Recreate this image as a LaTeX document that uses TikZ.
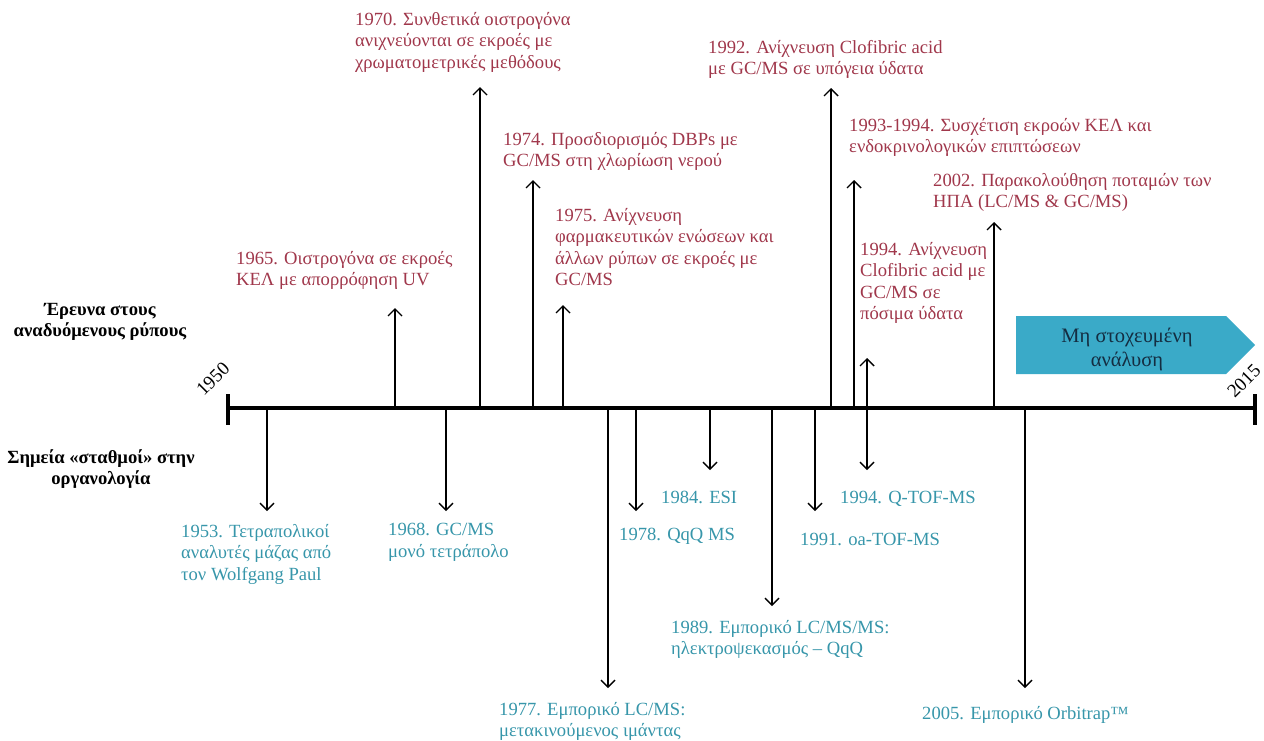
\documentclass[tikz,border=0pt]{standalone}
\usepackage{fontspec}
\setmainfont{Liberation Serif}
\usetikzlibrary{arrows.meta}
\definecolor{redtxt}{RGB}{160,55,75}
\definecolor{tealtxt}{RGB}{55,150,170}
\definecolor{boxblue}{RGB}{58,170,200}
\definecolor{boxtxt}{RGB}{20,45,65}
\begin{document}
\begin{tikzpicture}[x=1pt,y=-1pt,
  uptxt/.style={text=redtxt, font=\fontsize{18.6}{21.5}\selectfont, align=left, anchor=north west, inner sep=0pt},
  dntxt/.style={text=tealtxt, font=\fontsize{18.6}{21.5}\selectfont, align=left, anchor=north west, inner sep=0pt},
  sidetxt/.style={font=\bfseries\fontsize{18.6}{21.5}\selectfont, align=center, inner sep=0pt},
  yeartxt/.style={font=\fontsize{19}{20}\selectfont, rotate=45, inner sep=0pt},
  arr/.style={line width=1.4pt, -{Straight Barb[length=7pt,width=14pt,line width=1.4pt]}},
  darr/.style={line width=1.4pt, {Straight Barb[length=7pt,width=14pt,line width=1.4pt]}-{Straight Barb[length=7pt,width=14pt,line width=1.4pt]}},
  axisline/.style={line width=4pt}
]
\useasboundingbox (0,0) rectangle (1264,740);

% axis
\coordinate (L) at (228,408);
\coordinate (R) at (1255,408);
\coordinate (Lt) at (228,394);
\coordinate (Lb) at (228,425);
\coordinate (Rt) at (1255,394);
\coordinate (Rb) at (1255,425);
\draw[axisline] (L) -- (R);
\draw[axisline] (Lt) -- (Lb);
\draw[axisline] (Rt) -- (Rb);
\node[yeartxt] (y1950) at (213,379) {1950};
\node[yeartxt] (y2015) at (1244,381) {2015};

% side labels
\node[sidetxt] (s1) at (100,322) {Έρευνα στους\\αναδυόμενους ρύπους};
\node[sidetxt] (s2) at (101,469) {Σημεία «σταθμοί» στην\\οργανολογία};

% blue arrow box
\fill[boxblue] (1016,316) -- (1226,316) -- (1255,345) -- (1226,374) -- (1016,374) -- cycle;
\node[text=boxtxt, font=\fontsize{20.5}{24}\selectfont, align=center, inner sep=0pt] (box) at (1127,349) {Μη στοχευμένη\\ανάλυση};

% up arrows
\foreach \n/\x/\t in {a65/395/308, a70/480/87, a74/533/180, a75/563/305, a92/831/88, a93/854/180, a02/994/222}{
  \coordinate (\n b) at (\x,408);
  \coordinate (\n t) at (\x,\t);
  \draw[arr] (\n b) -- (\n t);
}
% double arrow 1994
\coordinate (d94t) at (867,358);
\coordinate (d94b) at (867,470);
\draw[darr] (d94b) -- (d94t);

% down arrows
\foreach \n/\x/\t in {b53/267/511, b68/446/511, b77/608/688, b78/636/511, b84/710/470, b89/772/606, b91/815/511, b05/1025/688}{
  \coordinate (\n s) at (\x,408);
  \coordinate (\n e) at (\x,\t);
  \draw[arr] (\n s) -- (\n e);
}

% top texts
\node[uptxt] (t65) at (236,251) {1965. Οιστρογόνα σε εκροές\\ΚΕΛ με απορρόφηση UV};
\node[uptxt] (t70) at (355,12) {1970. Συνθετικά οιστρογόνα\\ανιχνεύονται σε εκροές με\\χρωματομετρικές μεθόδους};
\node[uptxt] (t74) at (503,132) {1974. Προσδιορισμός DBPs με\\GC/MS στη χλωρίωση νερού};
\node[uptxt] (t75) at (555,208) {1975. Ανίχνευση\\φαρμακευτικών ενώσεων και\\άλλων ρύπων σε εκροές με\\GC/MS};
\node[uptxt] (t92) at (708,40) {1992. Ανίχνευση Clofibric acid\\με GC/MS σε υπόγεια ύδατα};
\node[uptxt] (t93) at (849,118) {1993-1994. Συσχέτιση εκροών ΚΕΛ και\\ενδοκρινολογικών επιπτώσεων};
\node[uptxt] (t02) at (933,173) {2002. Παρακολούθηση ποταμών των\\ΗΠΑ (LC/MS \& GC/MS)};
\node[uptxt] (t94) at (860,242) {1994. Ανίχνευση\\Clofibric acid με\\GC/MS σε\\πόσιμα ύδατα};

% bottom texts
\node[dntxt] (n53) at (181,524) {1953. Τετραπολικοί\\αναλυτές μάζας από\\τον Wolfgang Paul};
\node[dntxt] (n68) at (388,523) {1968. GC/MS\\μονό τετράπολο};
\node[dntxt] (n77) at (499,702) {1977. Εμπορικό LC/MS:\\μετακινούμενος ιμάντας};
\node[dntxt] (n78) at (619,528) {1978. QqQ MS};
\node[dntxt] (n84) at (661,491) {1984. ESI};
\node[dntxt] (n89) at (671,620) {1989. Εμπορικό LC/MS/MS:\\ηλεκτροψεκασμός – QqQ};
\node[dntxt] (n91) at (800,533) {1991. oa-TOF-MS};
\node[dntxt] (n94) at (840,491) {1994. Q-TOF-MS};
\node[dntxt] (n05) at (922,706) {2005. Εμπορικό Orbitrap™};
\end{tikzpicture}
\end{document}
